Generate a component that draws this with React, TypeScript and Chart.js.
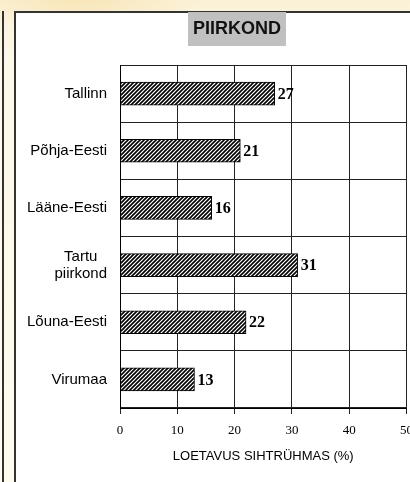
import React, { useEffect, useRef } from "react";
import { Chart, registerables } from "chart.js";
Chart.register(...registerables);

const categories: (string | string[])[] = [
  "Tallinn",
  "Põhja-Eesti",
  "Lääne-Eesti",
  ["Tartu", "piirkond"],
  "Lõuna-Eesti",
  "Virumaa",
];
const values: number[] = [27, 21, 16, 31, 22, 13];
const xTicks: number[] = [0, 10, 20, 30, 40, 50];
const chartTitle = "PIIRKOND";
const axisTitle = "LOETAVUS SIHTRÜHMAS (%)";

const SANS = '"Liberation Sans", Arial, sans-serif';
const SERIF = '"Liberation Serif", "Times New Roman", serif';

function makeHatch(ctx: CanvasRenderingContext2D): CanvasPattern | string {
  const c = document.createElement("canvas");
  c.width = 4;
  c.height = 4;
  const g = c.getContext("2d");
  if (!g) return "#888";
  g.fillStyle = "#fff";
  g.fillRect(0, 0, 4, 4);
  g.strokeStyle = "#000";
  g.lineWidth = 1.6;
  g.beginPath();
  g.moveTo(-1, 5);
  g.lineTo(5, -1);
  g.moveTo(-1, 1);
  g.lineTo(1, -1);
  g.moveTo(3, 5);
  g.lineTo(5, 3);
  g.stroke();
  return ctx.createPattern(c, "repeat") || "#888";
}

const titleBoxPlugin = {
  id: "titleBox",
  afterDraw(chart: any) {
    const ctx = chart.ctx as CanvasRenderingContext2D;
    ctx.save();
    ctx.fillStyle = "#c0c0c0";
    ctx.fillRect(188, 12, 98, 34);
    ctx.fillStyle = "#111";
    ctx.font = `bold 18px ${SANS}`;
    ctx.textAlign = "center";
    ctx.textBaseline = "middle";
    ctx.fillText(chartTitle, 237, 29);
    ctx.restore();
  },
};

// Category labels: right-aligned block, multi-line labels centred within their block
const categoryLabelPlugin = {
  id: "categoryLabels",
  afterDraw(chart: any) {
    const ctx = chart.ctx as CanvasRenderingContext2D;
    const yScale = chart.scales.y;
    const right = chart.chartArea.left - 13;
    const lineH = 17;
    ctx.save();
    ctx.fillStyle = "#000";
    ctx.font = `15px ${SANS}`;
    ctx.textBaseline = "middle";
    ctx.textAlign = "center";
    categories.forEach((lab, i) => {
      const lines = Array.isArray(lab) ? lab : [lab];
      const w = Math.max(...lines.map((l) => ctx.measureText(l).width));
      const cx = right - w / 2;
      const cy = yScale.getPixelForValue(i);
      const y0 = cy - ((lines.length - 1) * lineH) / 2;
      lines.forEach((l, j) => ctx.fillText(l, cx, y0 + j * lineH));
    });
    ctx.restore();
  },
};

const valueLabelPlugin = {
  id: "valueLabels",
  afterDatasetsDraw(chart: any) {
    const ctx = chart.ctx as CanvasRenderingContext2D;
    const meta = chart.getDatasetMeta(0);
    ctx.save();
    ctx.fillStyle = "#000";
    ctx.font = `bold 16px ${SERIF}`;
    ctx.textAlign = "left";
    ctx.textBaseline = "middle";
    meta.data.forEach((el: any, i: number) => {
      ctx.fillText(String(values[i]), el.x + 3, el.y + 1);
    });
    ctx.restore();
  },
};

function BarChart() {
  const ref = useRef<HTMLCanvasElement | null>(null);
  useEffect(() => {
    const canvas = ref.current;
    if (!canvas) return;
    const ctx = canvas.getContext("2d");
    if (!ctx) return;
    const hatch = makeHatch(ctx);
    const chart = new Chart(ctx, {
      type: "bar",
      data: {
        labels: categories as any,
        datasets: [
          {
            data: values,
            backgroundColor: hatch as any,
            borderColor: "#000",
            borderWidth: 1,
            borderSkipped: false,
            barThickness: 23,
          },
        ],
      },
      options: {
        indexAxis: "y",
        responsive: false,
        animation: false,
        devicePixelRatio: 1,
        layout: {
          autoPadding: false,
          padding: { left: 0, top: 65, right: 0, bottom: 18 },
        },
        plugins: {
          legend: { display: false },
          tooltip: { enabled: false },
          title: { display: false },
        },
        scales: {
          x: {
            type: "linear",
            min: 0,
            max: 50,
            afterBuildTicks: (s: any) => {
              s.ticks = xTicks.map((v) => ({ value: v }));
            },
            ticks: {
              color: "#000",
              font: { family: SERIF, size: 13 },
              padding: 9,
              maxRotation: 0,
            },
            grid: { color: "#222", lineWidth: 1, tickLength: 6, drawTicks: true },
            border: { color: "#000", width: 1 },
            title: {
              display: true,
              text: axisTitle,
              color: "#000",
              font: { family: SANS, size: 13 },
              padding: { top: 0, bottom: 0 },
            },
            afterFit: (s: any) => {
              s.height = 56;
            },
          },
          y: {
            type: "category",
            ticks: { display: false },
            grid: { color: "#222", lineWidth: 1, drawTicks: false, offset: true },
            border: { color: "#000", width: 1 },
            afterFit: (s: any) => {
              s.width = 120;
            },
          },
        },
      } as any,
      plugins: [titleBoxPlugin, categoryLabelPlugin, valueLabelPlugin],
    });
    return () => chart.destroy();
  }, []);
  return (
    <canvas
      ref={ref}
      width={422}
      height={482}
      style={{ position: "absolute", left: 0, top: 0, width: 422, height: 482 }}
    />
  );
}

export default function App() {
  return (
    <div
      style={{
        position: "fixed",
        left: 0,
        top: 0,
        width: 410,
        height: 482,
        overflow: "hidden",
        background:
          "radial-gradient(ellipse 120px 30px at 80px 0px, #f8e6b8 0%, rgba(248,230,184,0) 100%), linear-gradient(180deg, #fbf1d6 0px, #fdf8e9 60px, #fffbee 100%)",
      }}
    >
      <div
        style={{
          position: "absolute",
          left: 2,
          top: 11,
          width: 2,
          bottom: 0,
          background: "#333",
        }}
      />
      <div
        style={{
          position: "absolute",
          left: 14,
          top: 11,
          right: -20,
          bottom: -20,
          borderLeft: "2px solid #333",
          borderTop: "2px solid #333",
          background: "#fff",
        }}
      />
      <BarChart />
    </div>
  );
}
